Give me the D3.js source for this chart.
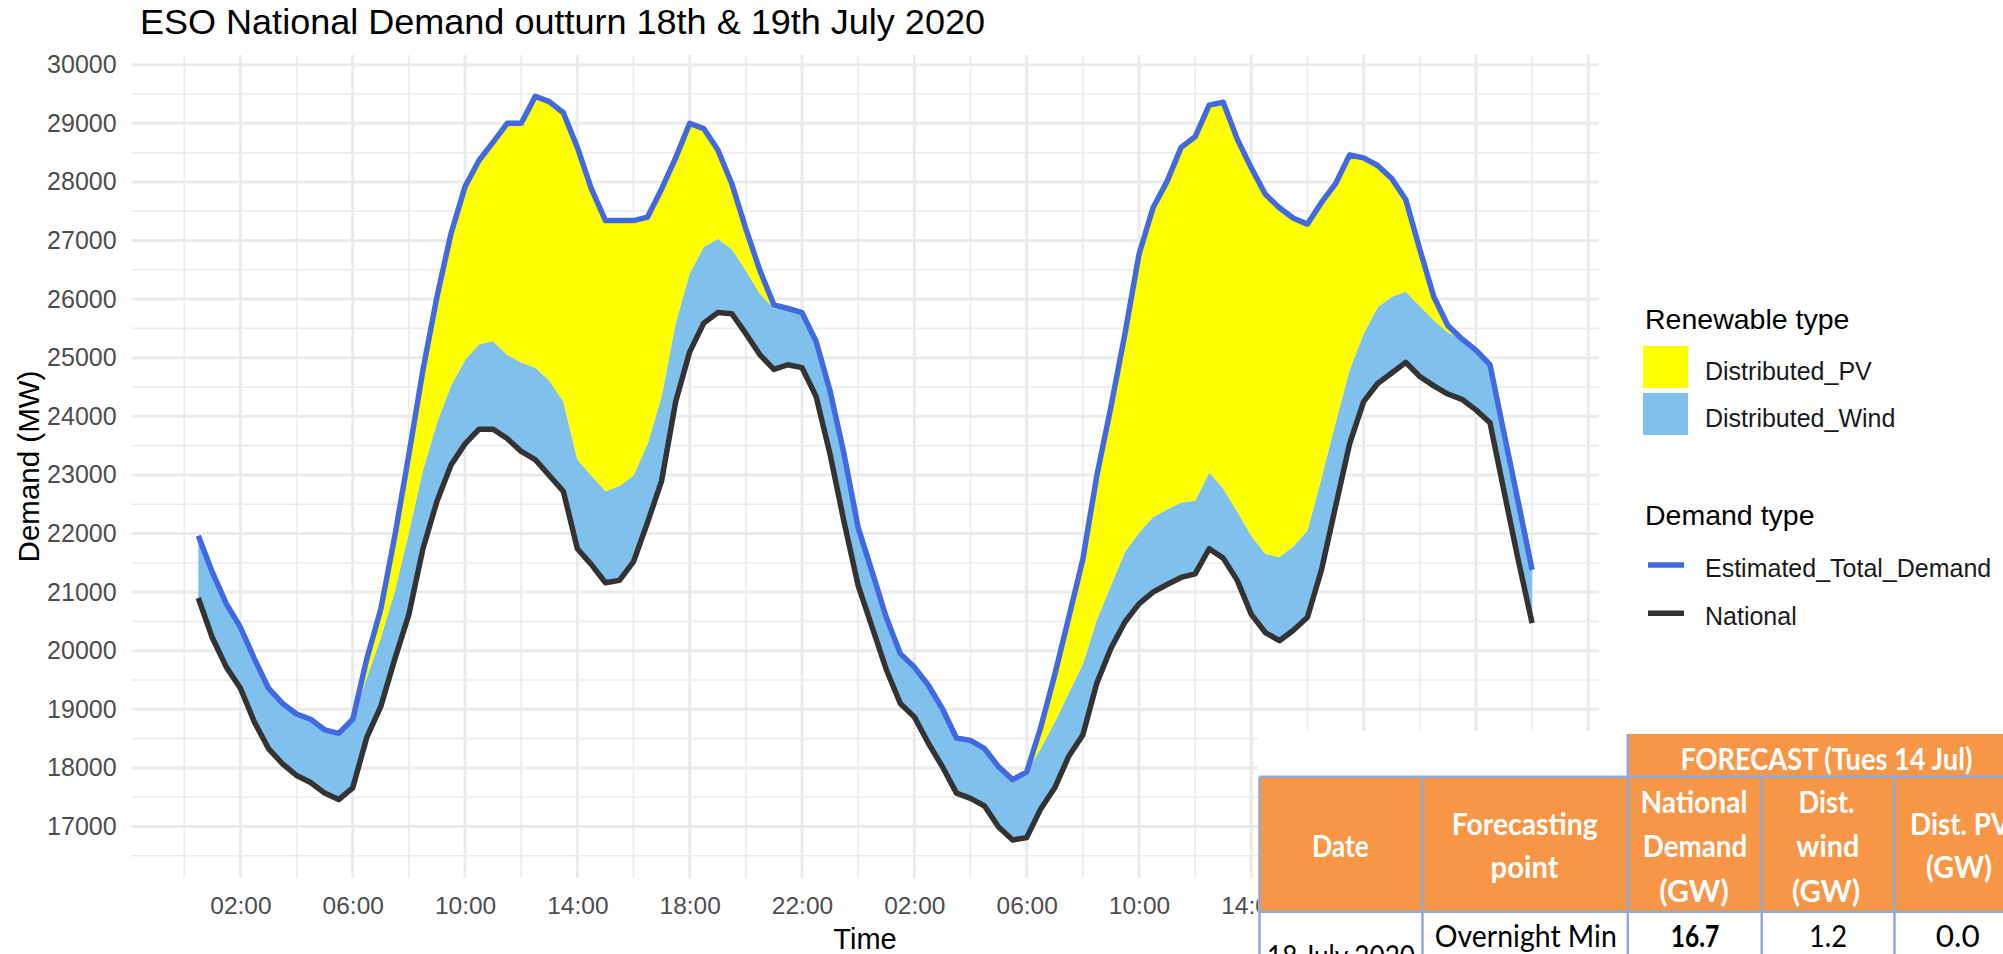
<!DOCTYPE html>
<html><head><meta charset="utf-8">
<script src="https://cdn.jsdelivr.net/npm/d3@7"></script>
<style>body{margin:0;background:#fff;} svg{display:block;}</style>
</head><body>
<script>
// ---- data (MW), half-hourly from 18 Jul 2020 00:30 to 20 Jul 00:00 ----
const national = [20900,20220,19720,19360,18780,18330,18070,17870,17750,17570,17460,17660,
  18520,19050,19860,20620,21740,22550,23170,23530,23780,23780,23620,23400,
  23260,22990,22720,21740,21470,21160,21200,21520,22190,22900,24250,25100,
  25590,25770,25750,25410,25050,24800,24880,24830,24340,23350,22190,21110,
  20400,19680,19100,18870,18420,18020,17570,17480,17350,16990,16770,16810,
  17300,17660,18200,18560,19450,20040,20490,20800,21000,21130,21250,21310,
  21740,21580,21200,20620,20310,20170,20350,20570,21380,22460,23530,24250,
  24560,24740,24920,24680,24520,24380,24290,24110,23890,22720,21560,20470];
const distributedWind = [1060,1120,1080,1040,1080,1030,1030,1050,1080,1080,1130,1170,
  1020,1170,1160,1400,1340,1340,1350,1430,1450,1500,1430,1520,
  1570,1620,1530,1520,1520,1560,1610,1470,1340,1440,1340,1340,
  1300,1260,1100,1080,1040,1040,960,940,940,1080,1160,990,
  940,890,850,850,990,990,940,990,980,1030,1030,1120,
  1030,1120,1080,1210,1080,1070,1200,1210,1280,1280,1280,1250,
  1300,1190,1170,1340,1340,1430,1430,1480,1570,1430,1260,1160,
  1300,1300,1210,1200,1120,1050,1030,1020,990,990,990,910];
const distributedPV = [0,0,0,0,0,0,0,0,0,0,0,0,
  320,490,940,1330,1710,2150,2600,2960,3140,3400,3950,4080,
  4630,4760,4930,5330,4890,4620,4530,4350,3870,3540,2820,2560,
  2020,1520,1120,710,400,60,0,0,0,0,0,0,
  0,0,0,0,0,0,0,0,0,0,0,0,
  360,810,1290,1790,2460,3050,3720,4750,5280,5600,6060,6210,
  6270,6590,6360,6280,6140,5960,5600,5230,4700,4080,3670,3000,
  2420,2020,1570,970,400,120,0,0,0,0,0,0];
const firstPeriod = new Date(2020,6,18,0,30);
const yTickValues = [17000,18000,19000,20000,21000,22000,23000,24000,25000,26000,27000,28000,29000,30000];
const renewableLegend = [{key:"Distributed_PV", color:"#ffff00"},{key:"Distributed_Wind", color:"#80c0ec"}];
const demandLegend = [{key:"Estimated_Total_Demand", color:"#4169e1"},{key:"National", color:"#333333"}];

const rows = national.map((n,i)=>({time:d3.timeMinute.offset(firstPeriod,30*i), national:n, wind:distributedWind[i], pv:distributedPV[i]}));

const W=2003,H=954;
const svg=d3.select("body").append("svg").attr("width",W).attr("height",H).style("font-family","'Liberation Sans', Arial, sans-serif");
svg.append("rect").attr("width",W).attr("height",H).attr("fill","#fff");

const panel={l:131.6,r:1598.8,t:55,b:878};
const x=d3.scaleTime().domain([new Date(2020,6,17,22,7,30), new Date(2020,6,20,2,22,30)]).range([panel.l,panel.r]);
const y=d3.scaleLinear().domain([16121,30166]).range([panel.b,panel.t]);

const majorX=d3.timeHour.range(new Date(2020,6,18,2), new Date(2020,6,20,3), 4);
const minorX=d3.timeHour.range(new Date(2020,6,18,0), new Date(2020,6,20,3), 4);
const minorY=d3.range(16500,30001,1000);

const grid=svg.append("g");
grid.selectAll(".mny").data(minorY).join("line").attr("x1",panel.l).attr("x2",panel.r).attr("y1",d=>y(d)).attr("y2",d=>y(d)).attr("stroke","#ebebeb").attr("stroke-width",1.6);
grid.selectAll(".mnx").data(minorX).join("line").attr("y1",panel.t).attr("y2",panel.b).attr("x1",d=>x(d)).attr("x2",d=>x(d)).attr("stroke","#ebebeb").attr("stroke-width",1.6);
grid.selectAll(".mjy").data(yTickValues).join("line").attr("x1",panel.l).attr("x2",panel.r).attr("y1",d=>y(d)).attr("y2",d=>y(d)).attr("stroke","#ebebeb").attr("stroke-width",3);
grid.selectAll(".mjx").data(majorX).join("line").attr("y1",panel.t).attr("y2",panel.b).attr("x1",d=>x(d)).attr("x2",d=>x(d)).attr("stroke","#ebebeb").attr("stroke-width",3);

// axes (labels only)
const yAxis=svg.append("g").attr("transform",`translate(${panel.l},0)`)
  .call(d3.axisLeft(y).tickValues(yTickValues).tickSize(0).tickPadding(15).tickFormat(d3.format("d")));
yAxis.select(".domain").remove();
yAxis.selectAll("text").attr("font-size",25).attr("fill","#4d4d4d").attr("font-family","'Liberation Sans', Arial, sans-serif");
const xAxis=svg.append("g").attr("transform",`translate(0,${panel.b})`)
  .call(d3.axisBottom(x).tickValues(majorX).tickSize(0).tickPadding(19).tickFormat(d3.timeFormat("%H:%M")));
xAxis.select(".domain").remove();
xAxis.selectAll("text").attr("font-size",24.5).attr("fill","#4d4d4d").attr("font-family","'Liberation Sans', Arial, sans-serif");

// stacked areas
const stack=d3.stack().keys(["national","wind","pv"])(rows);
const area=d3.area().x(d=>x(d.data.time)).y0(d=>y(d[0])).y1(d=>y(d[1]));
svg.append("path").datum(stack[1]).attr("d",area).attr("fill","#80c0ec");
svg.append("path").datum(stack[2]).attr("d",area).attr("fill","#ffff00");
const line=d3.line().x(d=>x(d.data.time)).y(d=>y(d[1]));
svg.append("path").datum(stack[2]).attr("d",line).attr("fill","none").attr("stroke","#4169e1").attr("stroke-width",5.5).attr("stroke-linejoin","round");
svg.append("path").datum(stack[0]).attr("d",line).attr("fill","none").attr("stroke","#333333").attr("stroke-width",5.5).attr("stroke-linejoin","round");

// titles
svg.append("text").attr("x",140).attr("y",34).attr("font-size",35).attr("textLength",845).attr("lengthAdjust","spacingAndGlyphs").attr("fill","#000").text("ESO National Demand outturn 18th & 19th July 2020");
svg.append("text").attr("transform","translate(39,466.5) rotate(-90)").attr("text-anchor","middle").attr("font-size",29.5).attr("fill","#000").text("Demand (MW)");
svg.append("text").attr("x",865).attr("y",949).attr("text-anchor","middle").attr("font-size",29).attr("fill","#000").text("Time");

// legends
const lg=svg.append("g");
lg.append("text").attr("x",1645).attr("y",329).attr("font-size",28.5).text("Renewable type");
renewableLegend.forEach((d,i)=>{
  lg.append("rect").attr("x",1643).attr("y",346+i*47).attr("width",45).attr("height",42).attr("fill",d.color);
  lg.append("text").attr("x",1705).attr("y",380+i*47).attr("font-size",25).attr("fill","#1a1a1a").text(d.key);
});
lg.append("text").attr("x",1645).attr("y",525).attr("font-size",28.5).text("Demand type");
demandLegend.forEach((d,i)=>{
  const cy=565+i*48.3;
  lg.append("line").attr("x1",1648).attr("x2",1684).attr("y1",cy).attr("y2",cy).attr("stroke",d.color).attr("stroke-width",5.5);
  lg.append("text").attr("x",1705).attr("y",cy+12).attr("font-size",25).attr("fill","#1a1a1a").text(d.key);
});

// forecast table overlay
const orange="#f79646", border="#8eaadb";
const tb=svg.append("g").style("font-family","Lato, 'Open Sans', sans-serif");
tb.append("rect").attr("x",1258).attr("y",731).attr("width",W-1258).attr("height",H-731).attr("fill","#fff");
tb.append("rect").attr("x",1628).attr("y",734).attr("width",W-1628).attr("height",43).attr("fill",orange);
tb.append("rect").attr("x",1259.5).attr("y",776.7).attr("width",W-1259.5).attr("height",135).attr("fill",orange);
const colX=[1259.5,1422.5,1627.8,1761.7,1894.5];
colX.forEach(cx=>tb.append("line").attr("x1",cx).attr("x2",cx).attr("y1",776.7).attr("y2",H).attr("stroke",border).attr("stroke-width",2.5));
tb.append("line").attr("x1",1627.8).attr("x2",1627.8).attr("y1",734).attr("y2",776.7).attr("stroke",border).attr("stroke-width",2.5);
[776.7,911.7].forEach(yy=>tb.append("line").attr("x1",1259.5).attr("x2",W).attr("y1",yy).attr("y2",yy).attr("stroke",border).attr("stroke-width",2.5));
const cells=[
  ["FORECAST (Tues 14 Jul)",1826.4,770,292,true,"#fff"],
  ["Date",1340.5,856.7,57,true,"#fff"],
  ["Forecasting",1524.7,835,146,true,"#fff"],
  ["point",1524.6,878.3,68,true,"#fff"],
  ["National",1694,812.7,107,true,"#fff"],
  ["Demand",1695,856.7,104.5,true,"#fff"],
  ["(GW)",1694,901.7,69.5,true,"#fff"],
  ["Dist.",1826.6,812.7,56,true,"#fff"],
  ["wind",1827.8,856.7,63,true,"#fff"],
  ["(GW)",1826,901.7,68,true,"#fff"],
  ["Dist. PV",1960,835,100,true,"#fff"],
  ["(GW)",1959,878.3,66,true,"#fff"],
  ["Overnight Min",1525.8,946.7,182,false,"#000"],
  ["16.7",1695,946.7,48.6,true,"#000"],
  ["1.2",1828,946.7,38,false,"#000"],
  ["0.0",1957.8,946.7,44,false,"#000"],
  ["18 July 2020",1341,967,148,false,"#000"]
];
cells.forEach(([t,cx,by,w,b,c])=>{
  tb.append("text").attr("x",cx-w/2).attr("y",by).attr("font-size",30).attr("font-weight",b?700:400)
    .attr("fill",c).attr("textLength",w).attr("lengthAdjust","spacingAndGlyphs").text(t);
});
</script>
</body></html>
